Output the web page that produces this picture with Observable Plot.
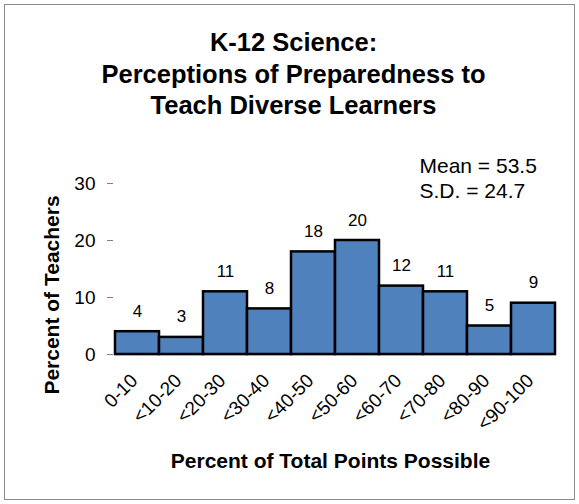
<!DOCTYPE html>
<html>
<head>
<meta charset="utf-8">
<script src="https://cdn.jsdelivr.net/npm/d3@7"></script>
<script src="https://cdn.jsdelivr.net/npm/@observablehq/plot@0.6"></script>
<style>
  html, body { margin: 0; padding: 0; background: #fff; }
  #frame {
    position: absolute; left: 4px; top: 4px; width: 569px; height: 494px;
    border: 1.5px solid #8c8c8c; background: #fff; overflow: hidden;
  }
  #title {
    position: absolute; left: 4px; top: 0; width: 579px; height: 130px;
    font-family: "Liberation Sans", Arial, sans-serif; font-weight: bold;
    font-size: 25.5px; line-height: 31.5px; text-align: center; color: #000;
    padding-top: 27px; box-sizing: border-box;
  }
  #chart { position: absolute; left: 0; top: 0; }
</style>
</head>
<body>
<div id="frame"></div>
<div id="title">K-12 Science:<br>Perceptions of Preparedness to<br>Teach Diverse Learners</div>
<div id="chart"></div>
<script>
const categories = ["0-10", "<10-20", "<20-30", "<30-40", "<40-50", "<50-60", "<60-70", "<70-80", "<80-90", "<90-100"];
const percents = [4, 3, 11, 8, 18, 20, 12, 11, 5, 9];
const yTicks = [0, 10, 20, 30];
const statsText = ["Mean = 53.5\nS.D. = 24.7"];
const xLabel = "Percent of Total Points Possible";
const yLabel = "Percent of Teachers";

const data = categories.map((c, i) => ({ bin: c, pct: percents[i] }));
const font = "'Liberation Sans', Arial, sans-serif";

const chart = Plot.plot({
  width: 579,
  height: 504,
  marginLeft: 115,
  marginRight: 24,
  marginTop: 183,
  marginBottom: 150,
  style: { fontFamily: font, background: "transparent", overflow: "visible" },
  x: { domain: categories, padding: 0, label: null },
  y: { domain: [0, 30], label: null },
  marks: [
    Plot.ruleY([0], { stroke: "#808080", strokeWidth: 1.5 }),
    Plot.barY(data, { x: "bin", y: "pct", fill: "#4f81bd", stroke: "#000", strokeWidth: 2.5 }),
    Plot.text(data, { x: "bin", y: "pct", text: d => String(d.pct), dy: -15, lineAnchor: "bottom", fontSize: 17, fill: "#000" }),
    Plot.axisY({ ticks: yTicks, tickSize: 6, tickPadding: 12, fontSize: 19, dx: -2, stroke: "#808080", color: "#000", label: null }),
    Plot.ruleX([0], { frameAnchor: "left", dx: -2, stroke: "#808080", strokeWidth: 1.5, y1: 0, y2: 30 }),
    Plot.axisX({ tickSize: 0, tickPadding: 23, dx: -3, tickRotate: -45, fontSize: 19, color: "#000", label: null }),
    Plot.text(statsText, { frameAnchor: "top-left", dx: 304, dy: -28, textAnchor: "start", lineAnchor: "top", lineHeight: 1.19, fontSize: 21, fill: "#000" }),
    Plot.text([xLabel], { frameAnchor: "bottom", dy: 107, dx: -5, textAnchor: "middle", lineAnchor: "middle", fontSize: 21, fontWeight: "bold", fill: "#000" }),
    Plot.text([yLabel], { frameAnchor: "left", dx: -63, dy: 26, rotate: -90, textAnchor: "middle", lineAnchor: "middle", fontSize: 21, fontWeight: "bold", fill: "#000" })
  ]
});
document.getElementById("chart").appendChild(chart);
</script>
</body>
</html>
